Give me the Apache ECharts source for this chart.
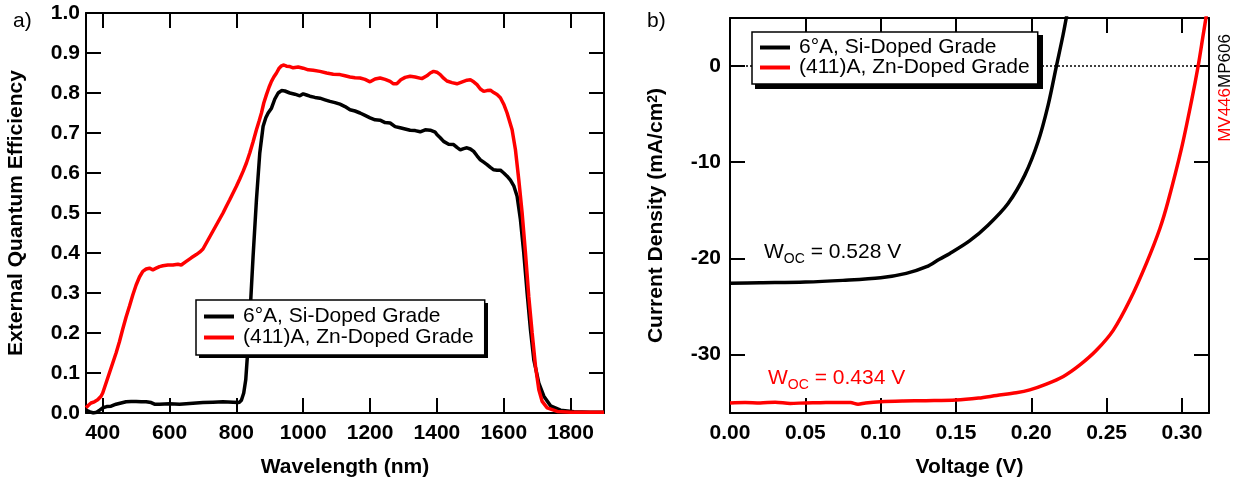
<!DOCTYPE html>
<html><head><meta charset="utf-8">
<script src="https://cdn.jsdelivr.net/npm/echarts@6/dist/echarts.min.js"></script>
<style>html,body{margin:0;padding:0;background:#fff}#c{width:1239px;height:487px}</style>
</head><body><div id="c"></div>
<script>
// ---- data ----
const seriesNames = ['6°A, Si-Doped Grade', '(411)A, Zn-Doped Grade'];

const eqeSiWavelength = [350,362,372,382,392,400,412,425,440,455,470,485,500,515,530,545,555,570,600,630,660,700,730,760,790,808,815,822,828,835,842,850,860,870,880,888,895,905,915,925,935,945,960,975,990,1000,1010,1020,1035,1050,1065,1080,1095,1110,1125,1140,1155,1170,1185,1200,1215,1230,1245,1260,1275,1290,1305,1320,1335,1350,1365,1380,1395,1400,1410,1420,1435,1450,1460,1470,1480,1490,1500,1510,1520,1530,1540,1550,1560,1570,1580,1590,1600,1610,1620,1630,1640,1650,1660,1670,1680,1690,1705,1720,1740,1770,1810,1860,1900];
const eqeSiValue = [0.007,0.003,0.000,0.002,0.008,0.013,0.016,0.017,0.022,0.025,0.028,0.029,0.029,0.028,0.028,0.026,0.022,0.022,0.023,0.022,0.024,0.026,0.027,0.028,0.027,0.026,0.032,0.050,0.083,0.167,0.267,0.392,0.533,0.650,0.717,0.738,0.750,0.762,0.785,0.800,0.806,0.805,0.800,0.797,0.793,0.798,0.795,0.792,0.789,0.787,0.783,0.779,0.776,0.772,0.766,0.758,0.755,0.750,0.744,0.738,0.733,0.732,0.726,0.725,0.716,0.713,0.710,0.707,0.706,0.703,0.708,0.707,0.702,0.696,0.688,0.679,0.672,0.671,0.664,0.658,0.661,0.663,0.660,0.654,0.643,0.633,0.627,0.621,0.614,0.608,0.607,0.607,0.600,0.592,0.582,0.568,0.542,0.483,0.400,0.300,0.208,0.133,0.075,0.042,0.018,0.007,0.003,0.002,0.002];

const eqeZnWavelength = [350,358,365,375,385,395,400,410,420,430,440,450,460,470,480,490,500,510,520,530,540,550,560,570,580,595,610,625,635,650,665,680,690,700,710,720,730,740,750,760,770,780,790,800,810,820,830,840,850,860,868,875,882,890,898,905,912,920,928,935,942,950,960,970,985,1000,1015,1030,1050,1070,1090,1110,1125,1140,1155,1170,1185,1200,1215,1230,1245,1260,1270,1280,1292,1305,1320,1335,1355,1370,1380,1390,1400,1410,1420,1430,1445,1460,1470,1480,1490,1500,1510,1520,1530,1540,1550,1560,1570,1580,1590,1600,1610,1625,1635,1645,1655,1665,1675,1685,1695,1705,1715,1730,1760,1800,1850,1900];
const eqeZnValue = [0.013,0.020,0.025,0.028,0.033,0.042,0.050,0.075,0.100,0.125,0.150,0.178,0.210,0.240,0.267,0.295,0.320,0.340,0.354,0.360,0.362,0.358,0.362,0.366,0.368,0.370,0.370,0.372,0.370,0.379,0.388,0.396,0.402,0.410,0.425,0.440,0.455,0.470,0.485,0.500,0.517,0.533,0.550,0.567,0.585,0.604,0.625,0.650,0.678,0.708,0.730,0.750,0.775,0.796,0.815,0.829,0.840,0.850,0.862,0.868,0.870,0.867,0.866,0.863,0.865,0.862,0.858,0.857,0.854,0.850,0.847,0.846,0.843,0.840,0.838,0.8375,0.834,0.828,0.835,0.8375,0.834,0.829,0.823,0.823,0.833,0.839,0.842,0.840,0.836,0.843,0.850,0.854,0.852,0.846,0.837,0.830,0.826,0.823,0.826,0.829,0.832,0.833,0.828,0.821,0.810,0.804,0.806,0.807,0.801,0.796,0.788,0.772,0.750,0.708,0.658,0.583,0.500,0.400,0.290,0.200,0.117,0.058,0.029,0.013,0.004,0.002,0.002,0.002];

const ivSiVoltage = [0,0.02,0.05,0.075,0.10,0.117,0.1305,0.139,0.146,0.159,0.1713,0.1846,0.1957,0.2045,0.2112,0.2167,0.2211,0.225];
const ivSiCurrent = [-22.6,-22.55,-22.48,-22.3,-22.03,-21.57,-20.88,-20.1,-19.5,-18.2,-16.56,-14.3,-11.35,-7.88,-4.06,0,3.23,6.5];

const ivZnVoltage = [0,0.01,0.02,0.03,0.04,0.05,0.06,0.07,0.08,0.085,0.09,0.10,0.115,0.13,0.15,0.165,0.177,0.19,0.199,0.21,0.2213,0.2323,0.2434,0.2544,0.2655,0.2765,0.2854,0.2908,0.2997,0.3063,0.3108,0.3141,0.317];
const ivZnCurrent = [-35.05,-35.0,-35.05,-34.98,-35.1,-35.05,-35.03,-35.0,-35.02,-35.18,-35.05,-34.92,-34.85,-34.82,-34.76,-34.55,-34.28,-34.0,-33.7,-33.1,-32.3,-31.1,-29.55,-27.5,-24.35,-20.5,-16.9,-14.1,-8.6,-3.7,0,3.2,6.0];

const wavelengthTicks = [400,600,800,1000,1200,1400,1600,1800];
const voltageTicks = [0,0.05,0.10,0.15,0.20,0.25,0.30];
const currentTicks = [0,-10,-20,-30];
const wocValues = ['0.528 V', '0.434 V'];

// ---- chart ----
const FONT = '"Liberation Sans", Arial, Helvetica, sans-serif';
const BLACK = '#000000', RED = '#ff0000';
const zip = (a, b) => a.map((v, i) => [v, b[i]]);

const axisLineStyle = {onZero: false, lineStyle: {color: BLACK, width: 2}};
const tickStyle = (vals) => Object.assign({show: true, inside: true, length: 15, lineStyle: {color: BLACK, width: 2}}, vals ? {customValues: vals} : {});
const labelStyle = {color: BLACK, fontFamily: FONT, fontWeight: 'bold', fontSize: 21};
const nameStyle = {color: BLACK, fontFamily: FONT, fontWeight: 'bold', fontSize: 21};
const legendCommon = {orient: 'vertical', itemGap: 0, itemWidth: 30, itemHeight: 4, icon: 'rect',
  backgroundColor: '#fff', borderColor: BLACK, borderWidth: 1.5, selectedMode: false, z: 60,
  textStyle: {color: BLACK, fontFamily: FONT, fontSize: 21, padding: [0, 0, 0, 4]}};

const chart = echarts.init(document.getElementById('c'), null, {renderer: 'canvas'});
const option = {
  backgroundColor: '#fff',
  animation: false,
  grid: [
    {left: 86, top: 13, width: 518, height: 400, outerBoundsMode: 'none', containLabel: false},
    {left: 730, top: 18, width: 479, height: 395, outerBoundsMode: 'none', containLabel: false}
  ],
  xAxis: [
    {gridIndex: 0, type: 'value', min: 350, max: 1900, position: 'bottom',
     axisLine: axisLineStyle, axisTick: tickStyle(wavelengthTicks), splitLine: {show: false},
     axisLabel: Object.assign({customValues: wavelengthTicks, margin: 10, formatter: v => String(v)}, labelStyle),
     name: 'Wavelength (nm)', nameLocation: 'middle', nameGap: 44, nameTextStyle: nameStyle},
    {gridIndex: 0, type: 'value', min: 350, max: 1900, position: 'top',
     axisLine: axisLineStyle, axisTick: tickStyle(wavelengthTicks), splitLine: {show: false},
     axisLabel: {show: false}},
    {gridIndex: 1, type: 'value', min: 0, max: 0.318, position: 'bottom',
     axisLine: axisLineStyle, axisTick: tickStyle(voltageTicks), splitLine: {show: false},
     axisLabel: Object.assign({customValues: voltageTicks, margin: 10, formatter: v => v.toFixed(2)}, labelStyle),
     name: 'Voltage (V)', nameLocation: 'middle', nameGap: 44, nameTextStyle: nameStyle},
    {gridIndex: 1, type: 'value', min: 0, max: 0.318, position: 'top',
     axisLine: axisLineStyle, axisTick: tickStyle(voltageTicks), splitLine: {show: false},
     axisLabel: {show: false}}
  ],
  yAxis: [
    {gridIndex: 0, type: 'value', min: 0, max: 1, interval: 0.1, position: 'left',
     axisLine: axisLineStyle, axisTick: tickStyle(), splitLine: {show: false},
     axisLabel: Object.assign({margin: 6, formatter: v => v.toFixed(1)}, labelStyle),
     name: 'External Quantum Efficiency', nameLocation: 'middle', nameGap: 59, nameTextStyle: nameStyle},
    {gridIndex: 0, type: 'value', min: 0, max: 1, interval: 0.1, position: 'right',
     axisLine: axisLineStyle, axisTick: tickStyle(), splitLine: {show: false},
     axisLabel: {show: false}},
    {gridIndex: 1, type: 'value', min: -36.1, max: 5, position: 'left',
     axisLine: axisLineStyle, axisTick: tickStyle(currentTicks), splitLine: {show: false},
     axisLabel: Object.assign({customValues: currentTicks, margin: 9, formatter: v => String(v)}, labelStyle),
     name: '{a|Current Density (mA/cm}{s|2}{a|)}', nameLocation: 'middle', nameGap: 63,
     nameTextStyle: Object.assign({}, nameStyle, {rich: {
       a: {fontFamily: FONT, fontWeight: 'bold', fontSize: 21, color: BLACK},
       s: {fontFamily: FONT, fontWeight: 'bold', fontSize: 14, color: BLACK, verticalAlign: 'top', lineHeight: 14}
     }})},
    {gridIndex: 1, type: 'value', min: -36.1, max: 5, position: 'right',
     axisLine: axisLineStyle, axisTick: tickStyle(currentTicks), splitLine: {show: false},
     axisLabel: {show: false}}
  ],
  legend: [
    Object.assign({data: seriesNames, left: 196, top: 300, padding: [6, 11, 7, 8]}, legendCommon),
    Object.assign({data: seriesNames, left: 752, top: 32, padding: [5, 8, 6, 8]}, legendCommon, {itemGap: -1})
  ],
  series: [
    {name: seriesNames[0], type: 'line', xAxisIndex: 0, yAxisIndex: 0, data: zip(eqeSiWavelength, eqeSiValue),
     showSymbol: false, symbol: 'none', lineStyle: {color: BLACK, width: 3.5}, itemStyle: {color: BLACK}, z: 2},
    {name: seriesNames[1], type: 'line', xAxisIndex: 0, yAxisIndex: 0, data: zip(eqeZnWavelength, eqeZnValue),
     showSymbol: false, symbol: 'none', lineStyle: {color: RED, width: 3.5}, itemStyle: {color: RED}, z: 3},
    {name: seriesNames[0], type: 'line', xAxisIndex: 2, yAxisIndex: 2, data: zip(ivSiVoltage, ivSiCurrent),
     showSymbol: false, symbol: 'none', smooth: 0.3,
     lineStyle: {color: BLACK, width: 3.5}, itemStyle: {color: BLACK}, z: 2,
     markLine: {silent: true, symbol: ['none', 'none'], label: {show: false},
       lineStyle: {color: BLACK, width: 1.5, type: [2, 2]}, data: [{yAxis: 0}], z: 1}},
    {name: seriesNames[1], type: 'line', xAxisIndex: 2, yAxisIndex: 2, data: zip(ivZnVoltage, ivZnCurrent),
     showSymbol: false, symbol: 'none', smooth: 0.3,
     lineStyle: {color: RED, width: 3.5}, itemStyle: {color: RED}, z: 3}
  ],
  graphic: {elements: [
    {type: 'rect', z: 50, shape: {x: 199, y: 303, width: 289, height: 55}, style: {fill: BLACK}},
    {type: 'rect', z: 50, shape: {x: 755, y: 35, width: 288, height: 54}, style: {fill: BLACK}},
    {type: 'text', x: 13, y: 21, style: {text: 'a)', font: '21px ' + FONT, fill: BLACK, textVerticalAlign: 'middle'}},
    {type: 'text', x: 647, y: 21, style: {text: 'b)', font: '21px ' + FONT, fill: BLACK, textVerticalAlign: 'middle'}},
    {type: 'text', x: 764, y: 242, style: {text: '{w|W}{s|OC}{w| = ' + wocValues[0] + '}', fill: BLACK, textVerticalAlign: 'top',
      rich: {w: {fontFamily: FONT, fontSize: 21, lineHeight: 24, verticalAlign: 'top', fill: BLACK},
             s: {fontFamily: FONT, fontSize: 14, lineHeight: 14, verticalAlign: 'bottom', fill: BLACK}}}},
    {type: 'text', x: 768, y: 368, style: {text: '{w|W}{s|OC}{w| = ' + wocValues[1] + '}', fill: RED, textVerticalAlign: 'top',
      rich: {w: {fontFamily: FONT, fontSize: 21, lineHeight: 24, verticalAlign: 'top', fill: RED},
             s: {fontFamily: FONT, fontSize: 14, lineHeight: 14, verticalAlign: 'bottom', fill: RED}}}},
    {type: 'text', x: 1225, y: 88, rotation: Math.PI / 2, style: {text: '{r|MV446}{k|MP606}', textAlign: 'center', textVerticalAlign: 'middle',
      rich: {r: {fontFamily: FONT, fontSize: 17, fill: RED}, k: {fontFamily: FONT, fontSize: 17, fill: BLACK}}}}
  ]}
};
chart.setOption(option);
</script></body></html>
